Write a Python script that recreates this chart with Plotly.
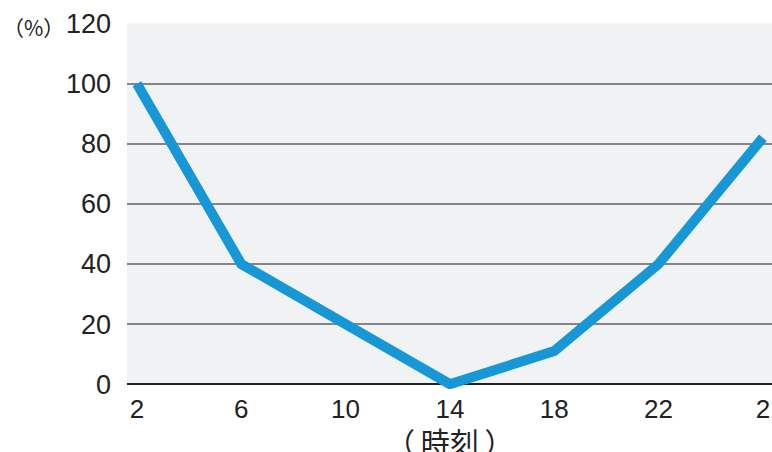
import plotly.graph_objects as go

# Hour of day (the last point wraps around to 2 o'clock of the next day)
hours = [2, 6, 10, 14, 18, 22, 26]
hour_labels = ["2", "6", "10", "14", "18", "22", "2"]
percent = [100, 40, 20, 0, 11, 40, 82]
y_ticks = [0, 20, 40, 60, 80, 100, 120]

LINE_BLUE = "#1797d5"
PANEL_BG = "#f1f2f4"
FONT = "Liberation Sans, Arial, sans-serif"
CJK = "Noto Sans CJK JP"

fig = go.Figure()

fig.add_trace(go.Scatter(
    x=hours,
    y=percent,
    mode="lines",
    line=dict(color=LINE_BLUE, width=10),
    hoverinfo="skip",
    showlegend=False,
))

# Panel background only covers the 0-120 band, so the white margin starts at the zero line
fig.add_shape(
    type="rect", xref="paper", yref="y",
    x0=0, x1=1, y0=0, y1=120,
    fillcolor=PANEL_BG, line=dict(width=0), layer="below",
)

fig.update_layout(
    width=772,
    height=452,
    margin=dict(l=127, r=0, t=23, b=63),
    paper_bgcolor="white",
    plot_bgcolor="white",
    font=dict(family=FONT, color="#222222"),
    xaxis=dict(
        range=[1.62, 26.35],
        tickvals=hours,
        ticktext=hour_labels,
        tickfont=dict(size=26, family=FONT, color="#222222"),
        showgrid=False,
        zeroline=False,
        showline=False,
        ticks="",
        ticklabelstandoff=2,
        fixedrange=True,
    ),
    yaxis=dict(
        range=[-1.6, 120.2],
        tickvals=y_ticks,
        tickfont=dict(size=27, family=FONT, color="#222222"),
        showgrid=True,
        gridcolor="#858585",
        gridwidth=2,
        zeroline=True,
        zerolinecolor="#222222",
        zerolinewidth=2,
        showline=False,
        ticks="",
        ticklabelstandoff=15,
        fixedrange=True,
    ),
    annotations=[
        dict(
            text="（%）", xref="paper", yref="y",
            x=(33 - 127) / 645, y=120, yshift=-3,
            xanchor="center", yanchor="middle",
            showarrow=False, font=dict(size=21, family=CJK, color="#222222"),
        ),
        dict(
            text="（\u2009時刻\u2009）", xref="x", yref="paper",
            x=14.0, y=(389 - 441) / 366, xanchor="center", yanchor="middle",
            showarrow=False, font=dict(size=29, family=CJK, color="#222222"),
        ),
    ],
)

fig.write_html("out.html")
